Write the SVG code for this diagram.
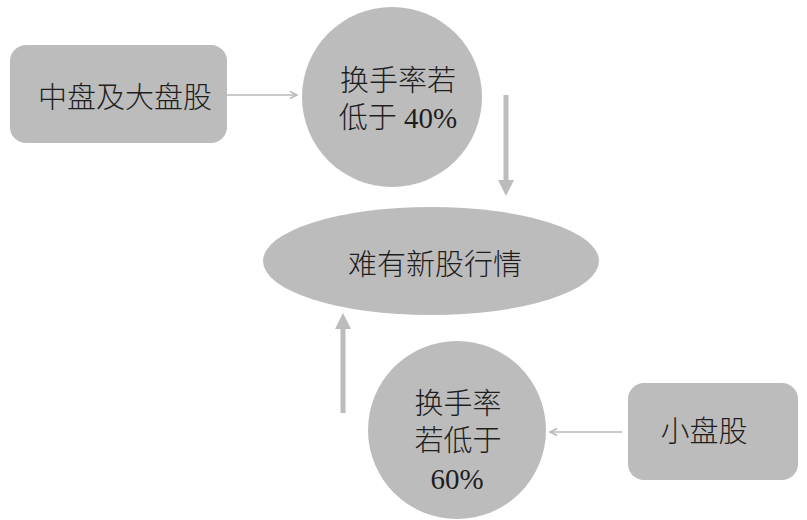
<svg xmlns="http://www.w3.org/2000/svg" width="807" height="520" viewBox="0 0 807 520">
<style>
.shape{fill:#bdbcbd}
.t{font-family:"Liberation Serif","Noto Sans CJK SC",serif;font-size:29px;fill:#1e1e1e;text-anchor:middle;font-weight:300}
.thin{stroke:#b8b8b8;stroke-width:1.6;fill:none}
.thick{stroke:#bcbcbc;stroke-width:5;fill:none}
</style>
<defs>
<marker id="open" markerWidth="10" markerHeight="10" refX="8" refY="5" orient="auto" markerUnits="userSpaceOnUse">
<path d="M1,1.5 L8,5 L1,8.5" fill="none" stroke="#b8b8b8" stroke-width="1.4"/>
</marker>
<marker id="solid" markerWidth="16" markerHeight="18" refX="0" refY="8" orient="auto" markerUnits="userSpaceOnUse">
<path d="M0,0 L16,8 L0,16 Z" fill="#bcbcbc"/>
</marker>
</defs>
<g id="connectors">
<line class="thin" x1="227" y1="95" x2="297" y2="95" marker-end="url(#open)"/>
<line class="thick" x1="506" y1="95" x2="506" y2="180" marker-end="url(#solid)"/>
<line class="thick" x1="343" y1="413" x2="343" y2="329" marker-end="url(#solid)"/>
<line class="thin" x1="622" y1="432" x2="550" y2="432" marker-end="url(#open)"/>
</g>
<g id="node-large">
<rect class="shape" x="10" y="45" width="217" height="98" rx="16"/>
<text class="t" x="125" y="108">中盘及大盘股</text>
</g>
<g id="node-cond40">
<circle class="shape" cx="392" cy="97" r="90"/>
<text class="t" x="398" y="91">换手率若</text>
<text class="t" x="398" y="128">低于 40%</text>
</g>
<g id="node-result">
<ellipse class="shape" cx="431" cy="261" rx="168" ry="54"/>
<text class="t" x="435" y="275">难有新股行情</text>
</g>
<g id="node-cond60">
<circle class="shape" cx="457" cy="430" r="89"/>
<text class="t" x="458" y="414">换手率</text>
<text class="t" x="458" y="451">若低于</text>
<text class="t" x="457" y="489">60%</text>
</g>
<g id="node-small">
<rect class="shape" x="628" y="383" width="170" height="97" rx="16"/>
<text class="t" x="704" y="442">小盘股</text>
</g>
</svg>
